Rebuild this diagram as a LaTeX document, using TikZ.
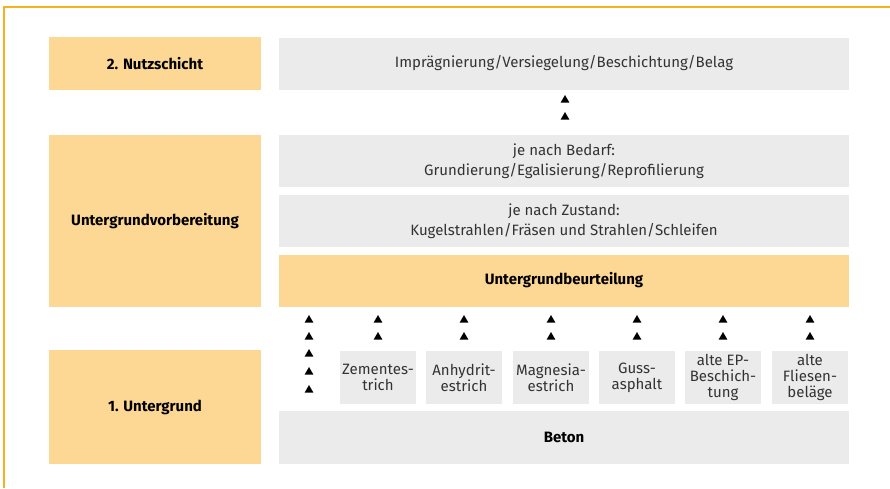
\documentclass[tikz,border=0pt]{standalone}
\usepackage{fontspec}
\setmainfont{Fira Sans}
\usetikzlibrary{shapes.geometric}
\definecolor{layerorange}{HTML}{FDD794}
\definecolor{layergray}{HTML}{EBEBEB}
\definecolor{framegold}{HTML}{F6B11C}
\definecolor{textgray}{HTML}{333333}

\begin{document}
\begin{tikzpicture}[x=1pt,y=-1pt,
	every node/.style={font=\fontsize{15}{20}\selectfont, text=textgray, align=center, inner sep=0pt},
	layer/.style={fill=layerorange, minimum width=212pt, font=\fontsize{15}{20}\selectfont\bfseries, text=black},
	wide/.style={fill=layergray, minimum width=570pt, minimum height=52pt},
	small/.style={fill=layergray, minimum width=76pt, minimum height=53pt, font=\fontsize{15}{16}\selectfont},
	tri/.style={regular polygon, regular polygon sides=3, fill=black, minimum size=10pt}]
	\useasboundingbox (0,0) rectangle (890,488);
	\draw[framegold, line width=1.6pt] (4,488) |- (890,7);

	\node[layer, minimum height=53pt] (nutz) at (155,63.5) {2. Nutzschicht};
	\node[layer, minimum height=172pt] (vorb) at (155,221) {Untergrundvorbereitung};
	\node[layer, minimum height=114pt] (grund) at (155,407) {1. Untergrund};

	\node[wide] (belag) at (564,63.5) {Imprägnierung/Versiegelung/Beschichtung/Belag};
	\node[wide] (bedarf) at (564,161) {je nach Bedarf:\\Grundierung/Egalisierung/Reprofilierung};
	\node[wide] (zustand) at (564,221) {je nach Zustand:\\Kugelstrahlen/Fräsen und Strahlen/Schleifen};
	\node[wide, fill=layerorange, font=\fontsize{15}{20}\selectfont\bfseries, text=black] (beurt) at (564,280.5) {Untergrundbeurteilung};
	\node[wide, minimum height=53pt, font=\fontsize{15}{20}\selectfont\bfseries, text=black] (beton) at (564,437.5) {Beton};

	\foreach \x/\lbl [count=\i] in {378/Zementes-\\trich, 464/Anhydrit-\\estrich, 551/Magnesia-\\estrich, 637/Guss-\\asphalt, 723/alte EP-\\Beschich-\\tung, 810/alte\\Fliesen-\\beläge}{
		\node[small] (s\i) at (\x,377.5) {\lbl};
		\node[tri] (t\i a) at (\x,320) {};
		\node[tri] (t\i b) at (\x,337) {};
	}
	\foreach \y [count=\i] in {320,337,354,372,390}
		\node[tri] (b\i) at (309,\y) {};
	\node[tri] (n1) at (565,100) {};
	\node[tri] (n2) at (565,117) {};
\end{tikzpicture}
\end{document}
